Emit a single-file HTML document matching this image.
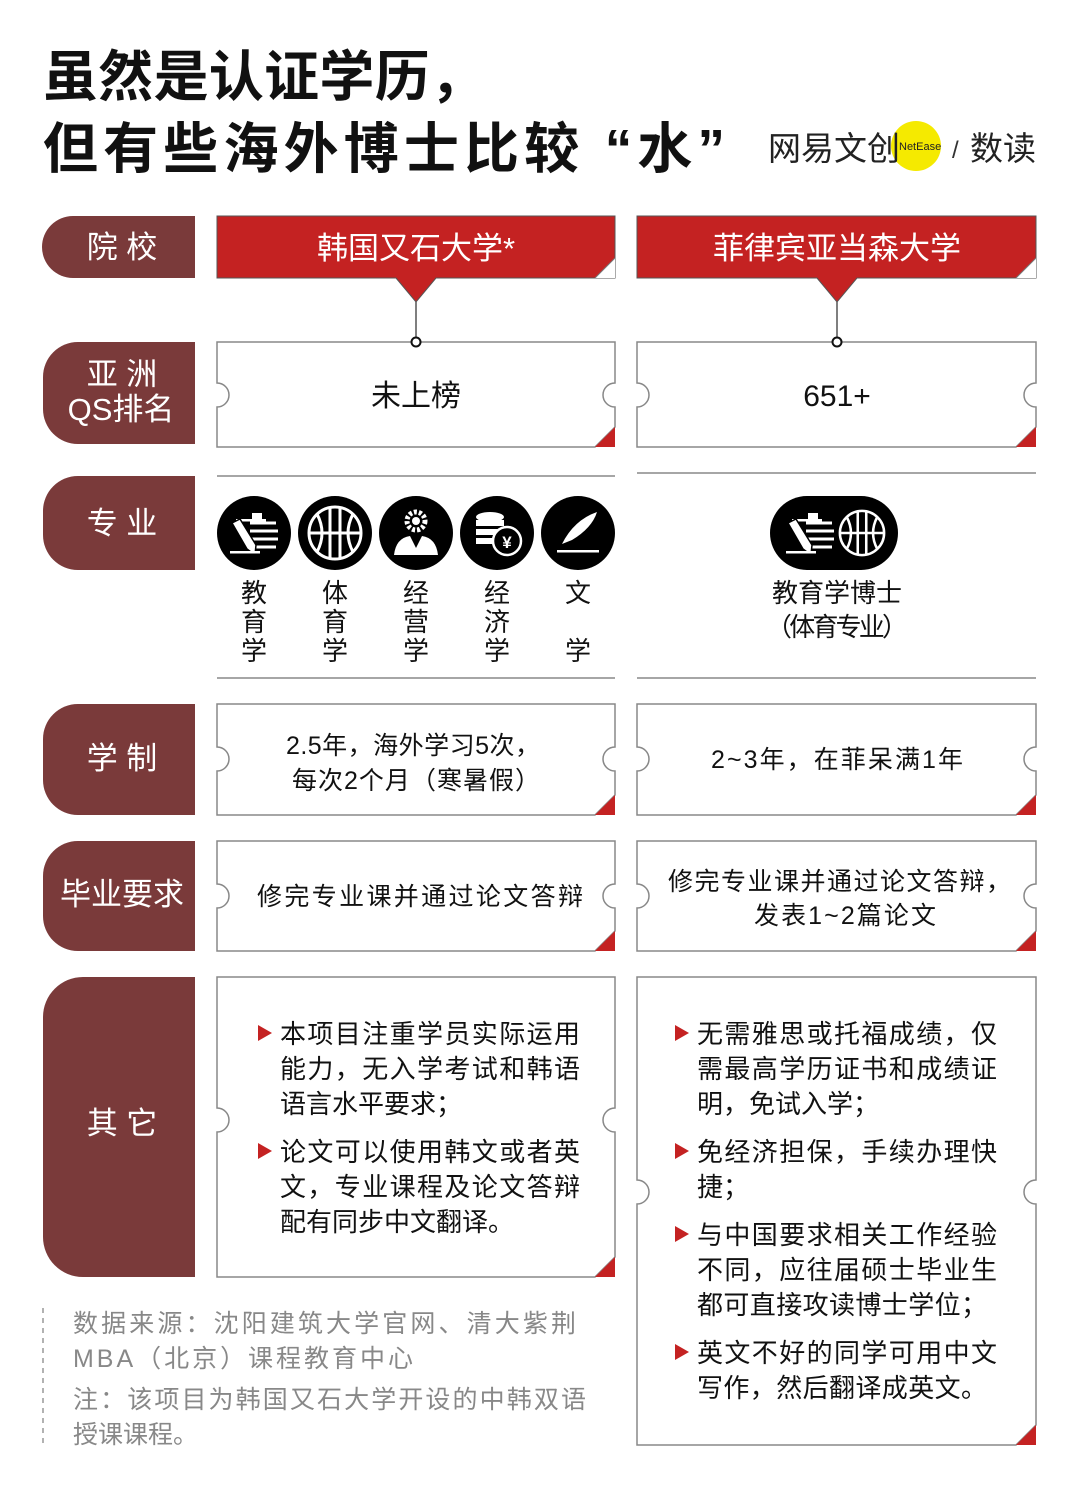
<!DOCTYPE html>
<html><head><meta charset="utf-8"><style>
html,body{margin:0;padding:0;background:#fff}
svg{display:block}
text{font-family:"Liberation Sans","Noto Sans CJK SC",sans-serif}
</style></head><body>
<svg width="1080" height="1489" viewBox="0 0 1080 1489" xmlns="http://www.w3.org/2000/svg">
<defs>
<g id="edu"><rect x="-18" y="-14" width="30" height="2.5" fill="#fff"/><rect x="-2" y="-20" width="10" height="10" fill="#fff"/><path d="M-4 -10 h26 M-4 -2 h28 M-4 6 h28 M-4 14 h26" stroke="#fff" stroke-width="3" fill="none"/><path d="M-22 -10 l8 -4 l16 26 l-1 10 l-8 -6 z" fill="#fff" stroke="#000" stroke-width="1.5"/><rect x="-24" y="18" width="30" height="2.5" fill="#fff"/></g>
<g id="ball"><circle r="26" fill="none" stroke="#fff" stroke-width="3"/><path d="M-26 0 H26 M-5 -26 V26 M5 -26 V26" stroke="#fff" stroke-width="3"/><path d="M-18 -19 Q-8 0 -18 19 M18 -19 Q8 0 18 19" stroke="#fff" stroke-width="3" fill="none"/></g>
</defs>

<!-- Title -->
<text x="43" y="96" font-size="55" font-weight="bold" fill="#111" textLength="442" lengthAdjust="spacing">虽然是认证学历，</text>
<text x="43" y="168" font-size="55" font-weight="bold" fill="#111" textLength="682" lengthAdjust="spacing">但有些海外博士比较 “水”</text>
<!-- logo -->
<circle cx="916" cy="146" r="25" fill="#f5ea00"/>
<text x="768" y="160" font-size="33" fill="#222">网易文创</text>
<text x="899" y="150" font-size="11" fill="#222" font-family="Liberation Mono">NetEase</text>
<text x="952" y="158" font-size="24" fill="#333">/</text>
<text x="970" y="160" font-size="33" fill="#222">数读</text>

<!-- Labels -->
<g fill="#7a3a3a">
<path d="M73 216 H195 V278 H73 A31 31 0 0 1 73 216 Z"/>
<path d="M78 342 H195 V444 H78 A35 35 0 0 1 43 409 V377 A35 35 0 0 1 78 342 Z"/>
<path d="M78 476 H195 V570 H78 A35 35 0 0 1 43 535 V511 A35 35 0 0 1 78 476 Z"/>
<path d="M78 704 H195 V815 H78 A35 35 0 0 1 43 780 V739 A35 35 0 0 1 78 704 Z"/>
<path d="M78 841 H195 V951 H78 A35 35 0 0 1 43 916 V876 A35 35 0 0 1 78 841 Z"/>
<path d="M83 977 H195 V1277 H83 A40 40 0 0 1 43 1237 V1017 A40 40 0 0 1 83 977 Z"/>
</g>
<g fill="#fff" font-size="31" text-anchor="middle">
<text x="122" y="258">院  校</text>
<text x="122" y="385">亚  洲</text>
<text x="121" y="420">QS排名</text>
<text x="122" y="534">专  业</text>
<text x="122" y="769">学  制</text>
<text x="122" y="905">毕业要求</text>
<text x="122" y="1134">其  它</text>
</g>

<!-- Headers -->
<g stroke="#555" stroke-width="1">
<path d="M217 216 H615 V278 H436 L416 302 L396 278 H217 Z" fill="#c42222"/>
<path d="M637 216 H1036 V278 H857 L837 302 L817 278 H637 Z" fill="#c42222"/>
</g>
<path d="M615 258 L595 278 L615 278 Z" fill="#fff"/>
<path d="M1036 258 L1016 278 L1036 278 Z" fill="#fff"/>
<path d="M615 258 L595 278 M1036 258 L1016 278" stroke="#777" stroke-width="1" fill="none"/>
<text x="416" y="259" font-size="31" fill="#fff" text-anchor="middle">韩国又石大学*</text>
<text x="837" y="259" font-size="31" fill="#fff" text-anchor="middle">菲律宾亚当森大学</text>
<path d="M416 302 V342 M837 302 V342" stroke="#555" stroke-width="1.5"/>

<!-- boxes -->
<g fill="#fff" stroke="#888" stroke-width="1.5">
<path d="M217 342 H615 V383 A12 12 0 0 0 615 407 V427 L595 447 H217 V407 A12 12 0 0 0 217 383 Z"/>
<path d="M637 342 H1036 V383 A12 12 0 0 0 1036 407 V427 L1016 447 H637 V407 A12 12 0 0 0 637 383 Z"/>
<path d="M217 704 H615 V747 A12 12 0 0 0 615 771 V795 L595 815 H217 V771 A12 12 0 0 0 217 747 Z"/>
<path d="M637 704 H1036 V747 A12 12 0 0 0 1036 771 V795 L1016 815 H637 V771 A12 12 0 0 0 637 747 Z"/>
<path d="M217 841 H615 V884 A12 12 0 0 0 615 908 V931 L595 951 H217 V908 A12 12 0 0 0 217 884 Z"/>
<path d="M637 841 H1036 V884 A12 12 0 0 0 1036 908 V931 L1016 951 H637 V908 A12 12 0 0 0 637 884 Z"/>
<path d="M217 977 H615 V1108 A12 12 0 0 0 615 1132 V1257 L595 1277 H217 V1132 A12 12 0 0 0 217 1108 Z"/>
<path d="M637 977 H1036 V1180 A12 12 0 0 0 1036 1204 V1425 L1016 1445 H637 V1204 A12 12 0 0 0 637 1180 Z"/>
</g>
<g fill="#c42222">
<path d="M615 427 L595 447 H615 Z"/><path d="M1036 427 L1016 447 H1036 Z"/>
<path d="M615 795 L595 815 H615 Z"/><path d="M1036 795 L1016 815 H1036 Z"/>
<path d="M615 931 L595 951 H615 Z"/><path d="M1036 931 L1016 951 H1036 Z"/>
<path d="M615 1257 L595 1277 H615 Z"/><path d="M1036 1425 L1016 1445 H1036 Z"/>
</g>
<circle cx="416" cy="342" r="4.5" fill="#fff" stroke="#111" stroke-width="2"/>
<circle cx="837" cy="342" r="4.5" fill="#fff" stroke="#111" stroke-width="2"/>

<g fill="#111" font-size="30" text-anchor="middle">
<text x="416" y="406">未上榜</text>
<text x="837" y="406">651+</text>
</g>

<!-- 专业 -->
<path d="M217 476 H615 M637 473 H1036 M217 678 H615 M637 678 H1036" stroke="#888" stroke-width="1.5"/>
<g>
<circle cx="254" cy="533" r="37" fill="#000"/><use href="#edu" x="254" y="533"/>
<circle cx="335" cy="533" r="37" fill="#000"/><use href="#ball" x="335" y="533"/>
<circle cx="416" cy="533" r="37" fill="#000"/>
<circle cx="416" cy="521" r="9" fill="none" stroke="#fff" stroke-width="5" stroke-dasharray="3 2"/><circle cx="416" cy="521" r="4" fill="#fff"/>
<path d="M394 555 Q396 538 410 536 L416 548 L422 536 Q436 538 438 555 Z" fill="#fff"/>
<circle cx="497" cy="533" r="37" fill="#000"/>
<ellipse cx="490" cy="517" rx="14" ry="5" fill="#fff"/><rect x="476" y="520" width="28" height="6" fill="#fff"/><rect x="476" y="529" width="28" height="6" fill="#fff"/><rect x="476" y="538" width="22" height="6" fill="#fff"/>
<circle cx="507" cy="541" r="14" fill="#000" stroke="#fff" stroke-width="2.5"/><text x="507" y="548" font-size="17" fill="#fff" text-anchor="middle" font-weight="bold">¥</text>
<circle cx="578" cy="533" r="37" fill="#000"/>
<path d="M562 544 Q574 520 597 512 Q592 528 572 540 Z" fill="#fff"/><rect x="557" y="550" width="42" height="2.5" fill="#fff"/>
</g>
<g fill="#111" font-size="26" text-anchor="middle">
<text x="254" y="602">教</text><text x="254" y="631">育</text><text x="254" y="660">学</text>
<text x="335" y="602">体</text><text x="335" y="631">育</text><text x="335" y="660">学</text>
<text x="416" y="602">经</text><text x="416" y="631">营</text><text x="416" y="660">学</text>
<text x="497" y="602">经</text><text x="497" y="631">济</text><text x="497" y="660">学</text>
<text x="578" y="602">文</text><text x="578" y="660">学</text>
</g>
<rect x="770" y="496" width="128" height="74" rx="37" fill="#000"/>
<use href="#edu" x="810" y="533"/>
<g transform="translate(862 533) scale(0.85)"><use href="#ball"/></g>
<g fill="#111" font-size="26" text-anchor="middle">
<text x="837" y="602">教育学博士</text>
<text x="837" y="636" textLength="142" lengthAdjust="spacing">（体育专业）</text>
</g>

<!-- 学制 / 毕业 -->
<g fill="#111" font-size="25">
<text x="286" y="754" textLength="254" lengthAdjust="spacing">2.5年，海外学习5次，</text>
<text x="292" y="789" textLength="248" lengthAdjust="spacing">每次2个月（寒暑假）</text>
<text x="711" y="768" textLength="252" lengthAdjust="spacing">2~3年，在菲呆满1年</text>
<text x="257" y="905" textLength="326" lengthAdjust="spacing">修完专业课并通过论文答辩</text>
<text x="668" y="890" textLength="343" lengthAdjust="spacing">修完专业课并通过论文答辩，</text>
<text x="754" y="924" textLength="182" lengthAdjust="spacing">发表1~2篇论文</text>
</g>

<!-- 其它 -->
<g fill="#c42222">
<path d="M258 1025 L272 1033 L258 1041 Z"/><path d="M258 1143 L272 1151 L258 1159 Z"/>
<path d="M675 1025 L689 1033 L675 1041 Z"/><path d="M675 1143 L689 1151 L675 1159 Z"/>
<path d="M675 1226 L689 1234 L675 1242 Z"/><path d="M675 1344 L689 1352 L675 1360 Z"/>
</g>
<g fill="#111" font-size="26">
<text x="280" y="1043" textLength="300" lengthAdjust="spacing">本项目注重学员实际运用</text>
<text x="280" y="1078" textLength="300" lengthAdjust="spacing">能力，无入学考试和韩语</text>
<text x="280" y="1113">语言水平要求；</text>
<text x="280" y="1161" textLength="300" lengthAdjust="spacing">论文可以使用韩文或者英</text>
<text x="280" y="1196" textLength="300" lengthAdjust="spacing">文，专业课程及论文答辩</text>
<text x="280" y="1231">配有同步中文翻译。</text>
<text x="697" y="1043" textLength="300" lengthAdjust="spacing">无需雅思或托福成绩，仅</text>
<text x="697" y="1078" textLength="300" lengthAdjust="spacing">需最高学历证书和成绩证</text>
<text x="697" y="1113">明，免试入学；</text>
<text x="697" y="1161" textLength="300" lengthAdjust="spacing">免经济担保，手续办理快</text>
<text x="697" y="1196">捷；</text>
<text x="697" y="1244" textLength="300" lengthAdjust="spacing">与中国要求相关工作经验</text>
<text x="697" y="1279" textLength="300" lengthAdjust="spacing">不同，应往届硕士毕业生</text>
<text x="697" y="1314" textLength="290" lengthAdjust="spacing">都可直接攻读博士学位；</text>
<text x="697" y="1362" textLength="300" lengthAdjust="spacing">英文不好的同学可用中文</text>
<text x="697" y="1397" textLength="290" lengthAdjust="spacing">写作，然后翻译成英文。</text>
</g>

<!-- footnote -->
<path d="M43 1308 V1443" stroke="#999" stroke-width="1.5" stroke-dasharray="5 5"/>
<g fill="#888" font-size="25">
<text x="73" y="1332" textLength="503" lengthAdjust="spacing">数据来源：沈阳建筑大学官网、清大紫荆</text>
<text x="73" y="1367" textLength="340" lengthAdjust="spacing">MBA（北京）课程教育中心</text>
<text x="73" y="1408" textLength="513" lengthAdjust="spacing">注：该项目为韩国又石大学开设的中韩双语</text>
<text x="73" y="1443">授课课程。</text>
</g>
</svg>
</body></html>
